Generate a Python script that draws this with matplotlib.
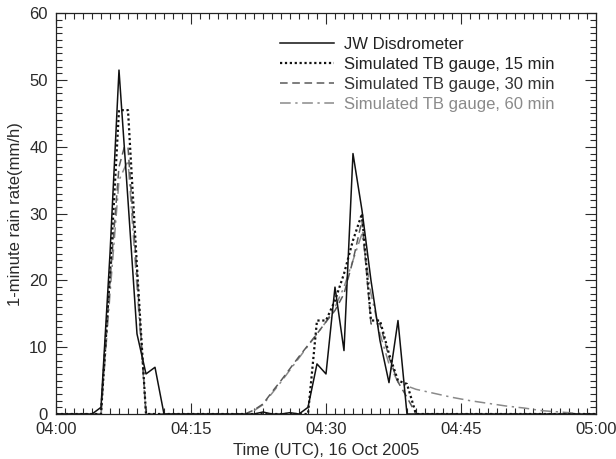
import matplotlib
matplotlib.use("Agg")
import matplotlib.pyplot as plt
from matplotlib.ticker import MultipleLocator, FuncFormatter

plt.rcParams['font.family'] = ['Liberation Sans', 'DejaVu Sans']

# minutes after 04:00 UTC, rain rate (mm/h)
disdro_t = [0, 4, 5, 6, 7, 8, 9, 10, 11, 12, 22, 23, 24, 25, 26, 27, 28, 29,
            30, 31, 32, 33, 34, 35, 36, 37, 38, 39, 60]
disdro_v = [0, 0, 1, 24, 51.5, 32, 12, 6, 7, 0, 0, 0.3, 0, 0, 0.2, 0, 1, 7.5,
            6, 19, 9.5, 39, 30.5, 20, 11, 4.7, 14, 0, 0]

tb15_t = [0, 5, 6, 7, 8, 9, 10, 28, 29, 30, 31, 32, 33, 34, 35, 36, 37, 38,
          39, 40, 60]
tb15_v = [0, 0, 21, 45.5, 45.5, 22, 0, 0, 14, 14, 17, 21, 26, 30, 14, 14, 9,
          5, 4.5, 0, 0]

tb30_t = [0, 5, 6, 7, 7.6, 8, 9, 10, 21, 22, 23, 24, 25, 26, 27, 28, 29, 30,
          31, 32, 33, 34, 35, 36, 37, 38, 39, 40, 60]
tb30_v = [0, 0, 20, 37, 40, 40, 21, 0, 0, 0.6, 1.5, 3.3, 5, 6.8, 8.6, 10.3,
          12, 13.8, 15.5, 18, 23, 29, 13.5, 13.5, 8.5, 4.8, 2.5, 0, 0]

tb60_t = [0, 5, 6, 7, 8, 9, 10, 21, 22, 23, 24, 25, 26, 27, 28, 29, 30, 31,
          32, 33, 34, 35, 36, 37, 38, 39, 40, 42, 44, 46, 48, 50, 52, 54, 56,
          58, 59, 60]
tb60_v = [0, 0, 18, 35, 38, 19, 0, 0, 0.5, 1.4, 3.1, 4.8, 6.6, 8.4, 10.2, 12,
          13.8, 16, 19, 23, 27, 18, 12, 7.5, 4.8, 4.2, 3.7, 3.1, 2.5, 2.0,
          1.6, 1.2, 0.9, 0.5, 0.3, 0.1, 0, 0]

labels = ['JW Disdrometer', 'Simulated TB gauge, 15 min',
          'Simulated TB gauge, 30 min', 'Simulated TB gauge, 60 min']

fig = plt.figure(figsize=(6.16, 4.59), dpi=100)
ax = fig.add_axes([0.0909, 0.098, 0.8766, 0.873])

ax.plot(tb60_t, tb60_v, color='#8a8a8a', lw=1.1, ls=(0, (7, 3, 1.5, 3)), label=labels[3])
ax.plot(tb30_t, tb30_v, color='#5a5a5a', lw=1.1, ls=(0, (5, 3)), label=labels[2])
ax.plot(tb15_t, tb15_v, color='#111111', lw=1.6, ls=(0, (1, 1.2)), label=labels[1])
ax.plot(disdro_t, disdro_v, color='#111111', lw=1.1, ls='-', label=labels[0])

ax.set_xlim(0, 60)
ax.set_ylim(0, 60)
ax.xaxis.set_major_locator(MultipleLocator(15))
ax.xaxis.set_minor_locator(MultipleLocator(1))
ax.yaxis.set_major_locator(MultipleLocator(10))
ax.yaxis.set_minor_locator(MultipleLocator(1))
ax.xaxis.set_major_formatter(FuncFormatter(
    lambda m, p: '%02d:%02d' % (4 + int(m) // 60, int(m) % 60)))
ax.tick_params(which='both', direction='in', top=True, right=True,
               labelsize=12, colors='#2a2a2a', width=0.8)
ax.tick_params(which='major', length=8, pad=6)
ax.tick_params(which='minor', length=4)
for s in ax.spines.values():
    s.set_linewidth(0.9)
    s.set_color('#222222')

ax.set_xlabel('Time (UTC), 16 Oct 2005', fontsize=12, color='#2a2a2a', labelpad=4)
ax.set_ylabel('1-minute rain rate(mm/h)', fontsize=12, color='#2a2a2a', labelpad=4)

h, l = ax.get_legend_handles_labels()
leg = ax.legend(h[::-1], l[::-1], loc='upper left', frameon=False,
                fontsize=12, handlelength=3.2, handletextpad=0.6,
                labelspacing=0.3, borderaxespad=0,
                bbox_to_anchor=(0.403, 0.958))
text_colors = ['#222222', '#222222', '#333333', '#8a8a8a']
for t, c in zip(leg.get_texts(), text_colors):
    t.set_color(c)

fig.savefig('out.png', dpi=100)
